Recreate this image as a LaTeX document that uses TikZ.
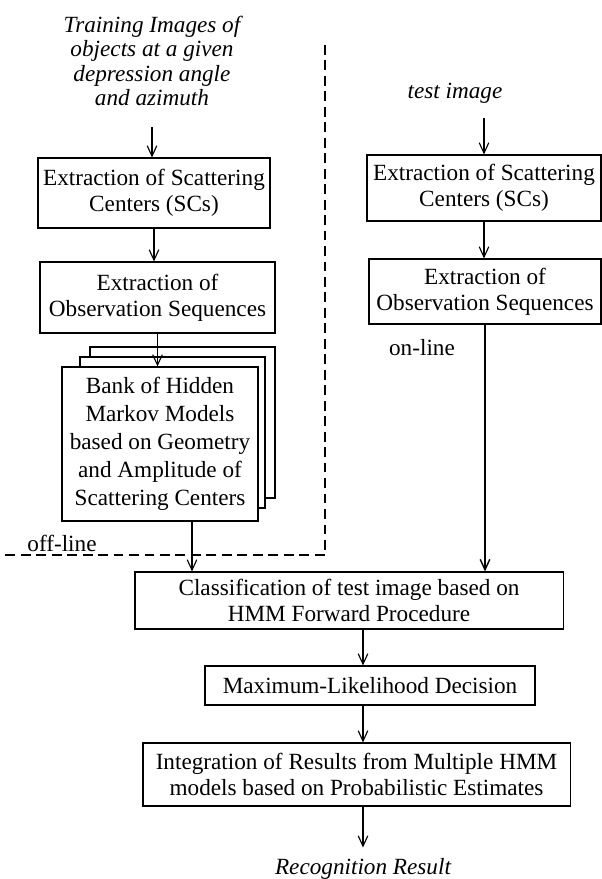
\documentclass[tikz,border=0pt]{standalone}
\usepackage{fontspec}
\setmainfont{Liberation Serif}
\usetikzlibrary{arrows.meta,positioning,calc}

\begin{document}
\begin{tikzpicture}[
  x=0.025cm, y=-0.025cm,
  box/.style={draw,line width=0.8pt,fill=white,align=center,inner sep=1pt,
    font=\fontsize{16.5}{18.5}\selectfont},
  lbl/.style={align=center,font=\fontsize{16.5}{17.5}\selectfont\itshape},
  tag/.style={font=\fontsize{16.5}{18}\selectfont},
  arc/.style={-{Straight Barb[length=2.6mm,width=2.4mm]},line width=0.8pt},
  sep/.style={dash pattern=on 7pt off 4pt,line width=0.8pt}
]
\useasboundingbox (0,0) rectangle (602,879);

% inputs
\node[lbl] (train) at (152,61) {Training Images of\\objects at a given\\depression angle\\and azimuth};
\node[lbl] (test) at (455,93) {test image};

% off-line branch
\node[box,minimum width=5.8cm,minimum height=1.75cm] (trsc) at (154,193) {Extraction of Scattering\\Centers (SCs)};
\node[box,minimum width=5.875cm,minimum height=1.775cm] (trobs) at (157.5,297.5) {Extraction of\\Observation Sequences};
\node[box,minimum width=4.625cm,minimum height=3.775cm] (stack3) at (182.5,422.5) {};
\node[box,minimum width=4.625cm,minimum height=3.775cm] (stack2) at (172.5,432.5) {};
\node[box,minimum width=4.9cm,minimum height=3.85cm,font=\fontsize{16.5}{20}\selectfont] (stack1) at (160,444)
  {Bank of Hidden\\Markov Models\\based on Geometry\\and Amplitude of\\Scattering Centers};
\coordinate (drop) at ($(stack1.south)+(32,0)$);

% on-line branch
\node[box,minimum width=5.85cm,minimum height=1.65cm] (tsc) at (484,188) {Extraction of Scattering\\Centers (SCs)};
\node[box,minimum width=5.8cm,minimum height=1.625cm] (tobs) at (485,291.5) {Extraction of\\Observation Sequences};

% recognition
\node[box,minimum width=10.7cm,minimum height=1.425cm] (cls) at (349,600.5) {Classification of test image based on\\HMM Forward Procedure};
\node[box,minimum width=8.25cm,minimum height=0.975cm] (mld) at (370,685.5) {Maximum-Likelihood Decision};
\node[box,minimum width=10.675cm,minimum height=1.575cm] (integ) at (356.5,774.5) {Integration of Results from Multiple HMM\\models based on Probabilistic Estimates};
\node[lbl] (result) at (363,869) {Recognition Result};

\node[tag] (offl) at (62,543) {off-line};
\node[tag] (onl) at (422,348) {on-line};

% separator
\draw[sep] (325,45) -- (325,555) -- (5,555);

% arrows
\draw[arc,shorten <=0.4cm] (train.south) -- (train.south |- trsc.north);
\draw[arc] (trsc.south) -- (trsc.south |- trobs.north);
\draw[arc] (trobs.south) -- (trobs.south |- stack1.north);
\draw[arc] (drop) -- (drop |- cls.north);
\draw[arc,shorten <=0.25cm] (tsc.north |- test.south) -- (tsc.north);
\draw[arc] (tsc.south) -- (tsc.south |- tobs.north);
\draw[arc,line width=1pt] (tobs.south) -- (tobs.south |- cls.north);
\draw[arc] (cls.south -| result) -- (mld.north -| result);
\draw[arc] (mld.south -| result) -- (integ.north -| result);
\draw[arc,shorten >=0.15cm] (integ.south -| result) -- (result);
\end{tikzpicture}
\end{document}
